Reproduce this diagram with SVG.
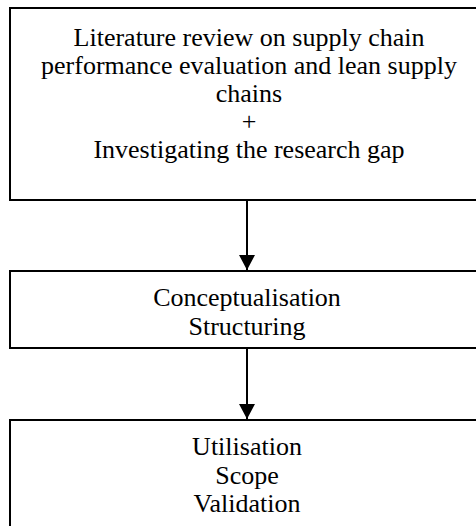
<svg xmlns="http://www.w3.org/2000/svg" width="476" height="526" viewBox="0 0 476 526">
  <defs>
    <style>
      .box { fill: #ffffff; stroke: #000000; stroke-width: 2; }
      .lbl { font-family: 'Liberation Serif', 'Times New Roman', serif; font-size: 26px; fill: #000000; text-anchor: middle; }
      .conn { stroke: #000000; stroke-width: 2; fill: none; marker-end: url(#arrow); }
    </style>
    <marker id="arrow" markerUnits="userSpaceOnUse" markerWidth="16" markerHeight="16" refX="15" refY="8" orient="auto">
      <path d="M0,0 L15,8 L0,16 Z" fill="#000000"/>
    </marker>
  </defs>
  <rect width="476" height="526" fill="#ffffff"/>
  <g id="connectors">
    <line class="conn" x1="247" y1="200" x2="247" y2="270"/>
    <line class="conn" x1="247" y1="348" x2="247" y2="419"/>
  </g>
  <g id="node-literature">
    <rect class="box" x="10" y="8" width="480" height="192"/>
    <text class="lbl" x="249" y="46">Literature review on supply chain</text>
    <text class="lbl" x="249" y="74">performance evaluation and lean supply</text>
    <text class="lbl" x="249" y="102">chains</text>
    <text class="lbl" x="249" y="130">+</text>
    <text class="lbl" x="249" y="158">Investigating the research gap</text>
  </g>
  <g id="node-conceptualisation">
    <rect class="box" x="10" y="271" width="480" height="77"/>
    <text class="lbl" x="247" y="306">Conceptualisation</text>
    <text class="lbl" x="247" y="335">Structuring</text>
  </g>
  <g id="node-utilisation">
    <rect class="box" x="10" y="420" width="480" height="120"/>
    <text class="lbl" x="247" y="455">Utilisation</text>
    <text class="lbl" x="247" y="484">Scope</text>
    <text class="lbl" x="247" y="512">Validation</text>
  </g>
</svg>
